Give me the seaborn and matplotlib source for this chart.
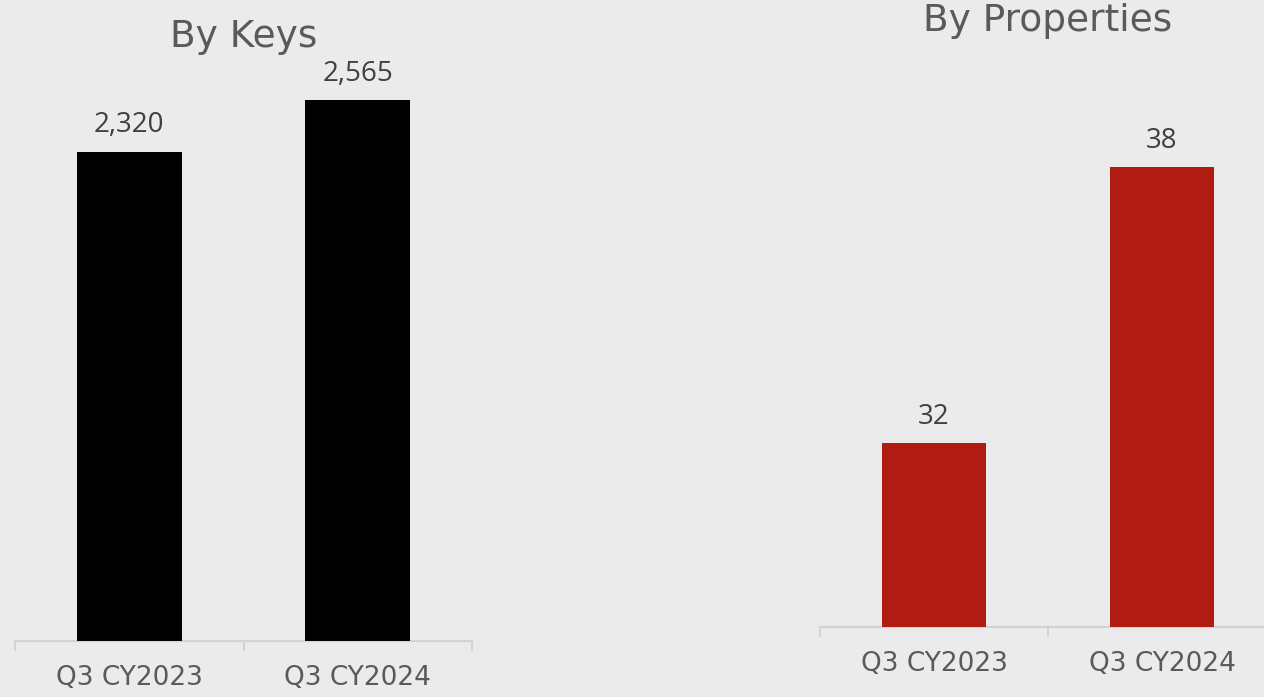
import matplotlib
matplotlib.use("Agg")
import matplotlib.pyplot as plt
import seaborn as sns
import numpy as np

categories = ["Q3 CY2023", "Q3 CY2024"]
keys_values = [2320, 2565]
keys_labels = ["2,320", "2,565"]
props_values = [32, 38]
props_labels = ["32", "38"]
titles = ["By Keys", "By Properties"]

sns.set_theme(style="white")
plt.rcParams['font.family'] = ['DejaVu Sans']

W, H = 1264, 697
fig = plt.figure(figsize=(W / 100, H / 100), dpi=100)
bg = "#ebebeb"
fig.patch.set_facecolor(bg)

def px_axes(x0, x1, ytop, ybase):
    return fig.add_axes([x0 / W, (H - ybase) / H, (x1 - x0) / W, (ybase - ytop) / H])

ax1 = px_axes(15, 472, 20, 641)
ax2 = px_axes(820, 1276, 20, 627)

spine_col = "#d3d3d3"
tick_col = "#5a5a5a"
label_col = "#404040"

def style(ax, values, labels, color, ylim):
    sns.barplot(x=categories, y=values, color=color, saturation=1, width=0.46,
                ax=ax, zorder=3, linewidth=0, edgecolor="none")
    ax.set_facecolor("none")
    ax.set_xlim(-0.5, 1.5)
    ax.set_ylim(*ylim)
    for s in ["top", "right", "left"]:
        ax.spines[s].set_visible(False)
    ax.spines["bottom"].set_color(spine_col)
    ax.spines["bottom"].set_linewidth(1.6)
    ax.set_yticks([])
    ax.set_xlabel("")
    ax.set_ylabel("")
    ax.set_xticks([0, 1])
    ax.set_xticklabels(categories, fontsize=19, color=tick_col)
    ax.set_xticks([-0.5, 0.5, 1.5], minor=True)
    ax.tick_params(axis="x", which="major", length=0, pad=17)
    ax.tick_params(axis="x", which="minor", length=7.5, width=1.4, color=spine_col, bottom=True)
    for i, (v, lab) in enumerate(zip(values, labels)):
        ax.annotate(lab, xy=(i, v), xytext=(0, 9), textcoords="offset points",
                    ha="center", va="bottom", fontsize=20, color=label_col,
                    family=["Open Sans", "DejaVu Sans"])

style(ax1, keys_values, keys_labels, "#000000", (0, 2946))
style(ax2, props_values, props_labels, "#b01c12", (28, 41.2))

fig.text(244 / W, 1 - 37 / H, titles[0], ha="center", va="center",
         fontsize=27, color=tick_col)
fig.text(1048 / W, 1 - 21 / H, titles[1], ha="center", va="center",
         fontsize=27, color=tick_col)

fig.savefig("out.png", dpi=100, facecolor=bg)
